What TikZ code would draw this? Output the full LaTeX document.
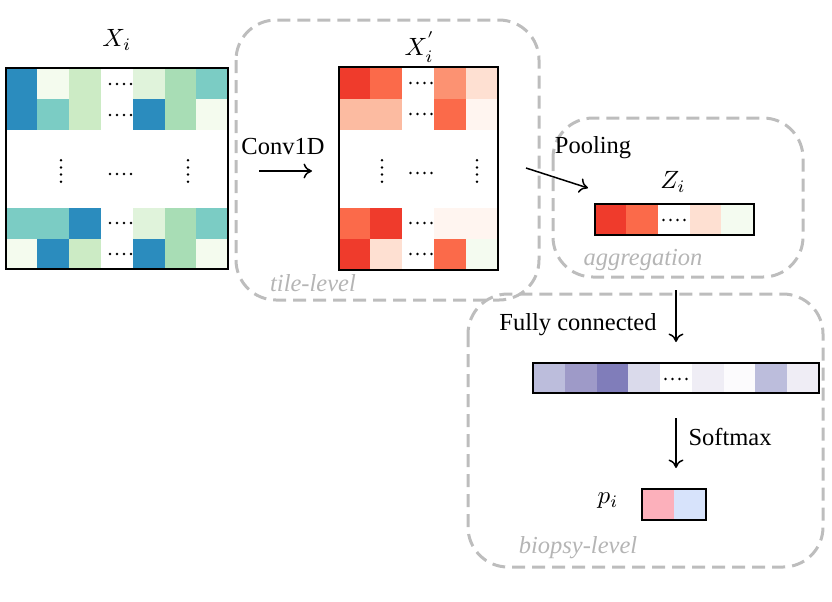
\documentclass[tikz,border=0pt]{standalone}
\usepackage{fontspec}
\setmainfont{Liberation Serif}
\usetikzlibrary{arrows.meta}
% GnBu
\definecolor{gDB}{HTML}{2B8CBE}
\definecolor{gTE}{HTML}{7BCCC4}
\definecolor{gGR}{HTML}{A8DDB5}
\definecolor{gLG}{HTML}{CCEBC5}
\definecolor{gLL}{HTML}{E0F3DB}
\definecolor{gVL}{HTML}{F4FBEE}
% Reds
\definecolor{rA}{HTML}{EF3B2C}
\definecolor{rB}{HTML}{FB6A4A}
\definecolor{rC}{HTML}{FC9272}
\definecolor{rD}{HTML}{FCBBA1}
\definecolor{rE}{HTML}{FEE0D2}
\definecolor{rF}{HTML}{FFF5F0}
\definecolor{rG}{HTML}{F4FBF0}
% Purples
\definecolor{pA}{HTML}{BCBDDC}
\definecolor{pB}{HTML}{9E9AC8}
\definecolor{pC}{HTML}{807DBA}
\definecolor{pD}{HTML}{DADAEB}
\definecolor{pE}{HTML}{EFEDF5}
\definecolor{pF}{HTML}{FCFBFD}
% output
\definecolor{oPink}{HTML}{FCB0BB}
\definecolor{oBlue}{HTML}{D7E3FB}
\definecolor{dashgray}{HTML}{BDBDBD}
\definecolor{lblgray}{HTML}{B5B5B5}
\newcommand\mrow[3]{\foreach \xa/\xb/\cc in {#3} {\fill[\cc] (\xa,#1) rectangle (\xb,#2);}}
\newcommand\hdts[2]{\foreach \k in {0,1,2,3} {\fill (#1-10.5+7*\k,#2) circle (0.55pt);}}
\newcommand\vdts[2]{\foreach \k in {0,1,2,3} {\fill (#1,#2-10.8+7.2*\k) circle (0.55pt);}}
\tikzset{
  frame/.style={draw=black, line width=0.8pt},
  grpbox/.style={draw=dashgray, line width=1.2pt, dash pattern=on 5.2pt off 2.8pt, rounded corners=16pt},
  arr/.style={-{To[length=3.4pt,width=6pt]}, line width=0.6pt},
  grplabel/.style={text=lblgray, font=\fontsize{9.8}{12}\selectfont\itshape},
}
\begin{document}
\begin{tikzpicture}[x=0.4pt,y=-0.4pt, font=\fontsize{9.8}{12}\selectfont]
\useasboundingbox (0,0) rectangle (832,601);

% group boxes
\draw[grpbox] (236,20) rectangle (539,300);
\draw[grpbox] (553,118) rectangle (803,277);
\draw[grpbox] (468,294) rectangle (823,567);
\node[grplabel] (ltile) at (313,283) {tile-level};
\node[grplabel] (lagg) at (643,260) {aggregation};
\node[grplabel] (lbio) at (578,548) {biopsy-level};

% X_i
\mrow{68}{99}{6/36.7/gDB, 36.7/69.3/gVL, 69.3/100.7/gLG, 133.3/164.7/gLL, 164.7/196/gGR, 196/228.3/gTE}
\mrow{99}{130}{6/36.7/gDB, 36.7/69.3/gTE, 69.3/100.7/gLG, 133.3/164.7/gDB, 164.7/196/gGR, 196/228.3/gVL}
\mrow{208}{239}{6/36.7/gTE, 36.7/69.3/gTE, 69.3/100.7/gDB, 133.3/164.7/gLL, 164.7/196/gGR, 196/228.3/gTE}
\mrow{239}{269}{6/36.7/gVL, 36.7/69.3/gDB, 69.3/100.7/gLG, 133.3/164.7/gDB, 164.7/196/gGR, 196/228.3/gVL}
\hdts{120.5}{84}\hdts{120.5}{115}\hdts{120.5}{174}\hdts{120.5}{223}\hdts{120.5}{254}
\vdts{61}{171}\vdts{188}{171}
\node[frame, minimum width=222.3*0.4pt, minimum height=201*0.4pt, inner sep=0pt] (Xi) at (117.15,168.5) {};
\node (lXi) at (117,40) {$X_i$};

% X_i'
\mrow{67.3}{98.5}{339.3/370/rA, 370/402.3/rB, 434/466/rC, 466/498.3/rE}
\mrow{98.5}{130}{339.3/370/rD, 370/402.3/rD, 434/466/rB, 466/498.3/rF}
\mrow{207.7}{239}{339.3/370/rB, 370/402.3/rA, 434/466/rF, 466/498.3/rF}
\mrow{239}{270}{339.3/370/rA, 370/402.3/rE, 434/466/rB, 466/498.3/rG}
\hdts{421}{83}\hdts{421}{114}\hdts{421}{173}\hdts{421}{223}\hdts{421}{254}
\vdts{382}{171}\vdts{477}{171}
\node[frame, minimum width=159*0.4pt, minimum height=202.7*0.4pt, inner sep=0pt] (Xp) at (418.8,168.65) {};
\node (lXp) at (420,47) {$X_i^{'}$};

% Conv1D arrow
\coordinate (c1a) at (259,171);
\coordinate (c1b) at (312,171);
\draw[arr] (c1a) -- (c1b);
\node (lconv) at (283,147) {Conv1D};

% Pooling arrow
\coordinate (p1a) at (526,168);
\coordinate (p1b) at (588,188);
\draw[arr] (p1a) -- (p1b);
\node (lpool) at (593,148) {Pooling};

% Z_i
\mrow{204}{235}{595/626/rA, 626/657.7/rB, 690/721/rE, 721/754/rG}
\hdts{674}{220}
\node[frame, minimum width=159*0.4pt, minimum height=31*0.4pt, inner sep=0pt] (Zi) at (674.5,219.5) {};
\node (lZi) at (673,182) {$Z_i$};

% FC arrow
\coordinate (f1a) at (676,290);
\coordinate (f1b) at (676,342);
\draw[arr] (f1a) -- (f1b);
\node (lfc) at (578,325) {Fully connected};

% FC bar
\mrow{363}{393}{533/564.8/pA, 564.8/596.6/pB, 596.6/628.3/pC, 628.3/660.1/pD, 691.9/723.7/pE, 723.7/755.4/pF, 755.4/787.2/pA, 787.2/819/pE}
\hdts{676}{379}
\node[frame, minimum width=286*0.4pt, minimum height=30*0.4pt, inner sep=0pt] (FC) at (676,378) {};

% Softmax arrow
\coordinate (s1a) at (676,418);
\coordinate (s1b) at (676,468);
\draw[arr] (s1a) -- (s1b);
\node (lsoft) at (730,437) {Softmax};

% p_i
\mrow{489}{520}{642/674/oPink, 674/706/oBlue}
\node[frame, minimum width=64*0.4pt, minimum height=31*0.4pt, inner sep=0pt] (pi) at (674,504.5) {};
\node (lpi) at (608,501) {$p_i$};
\end{tikzpicture}
\end{document}
